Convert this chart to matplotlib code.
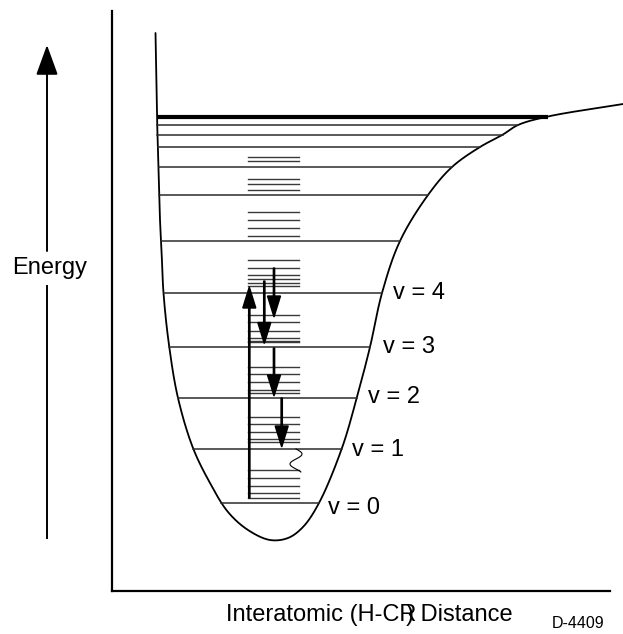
import numpy as np
import matplotlib
matplotlib.use("Agg")
import matplotlib.pyplot as plt

plt.rcParams['font.family'] = ['Liberation Sans', 'DejaVu Sans']

# Potential energy curve (distance, energy), arbitrary units
curve_r = [43.5, 45, 46.5, 48, 49.5, 51.5, 57, 66, 81, 98, 116, 136, 158,
           176, 191, 207, 230, 245, 258, 270, 288, 316, 340, 368, 391, 406,
           436, 511]
curve_e = [558, 475, 424, 371, 341, 298, 246, 193, 143, 108, 79, 61, 51,
           53, 64, 88, 143, 194, 244, 298, 350, 396, 424, 444, 456.5, 466,
           474.5, 487]

# Vibrational levels of the C-H stretch (v = 0 ... up to dissociation)
level_e = [88, 142.5, 193.5, 244.5, 298, 350, 396, 424, 444, 456.5, 466]
dissociation_e = 474.5
level_labels = ["v = 0", "v = 1", "v = 2", "v = 3", "v = 4"]
label_r = [216, 240, 256, 271, 281]
label_e = [83, 141, 194, 244, 298]

# Dense manifold of bath states
bath_e = [434, 429.7,
          412.5, 407, 401.3,
          378.7, 370.7, 363, 355.3,
          330.7, 323.5, 316, 311.7, 308, 305.3,
          276, 269, 260.5, 253, 250.5, 248.7,
          224.3, 217, 209, 201.5, 198,
          174.5, 167, 159.3, 152.5, 149.5,
          121, 113.3, 105.3, 98.2, 93.5]
bath_r = (136, 187)

# Excitation (up) and relaxation (down) transitions: (r, e_start, e_end)
excitation = (137.3, 93, 304)
relaxations = [(162, 323, 274),
               (152.3, 310, 247.5),
               (162, 243, 195),
               (169.7, 193, 144)]


def catmull_rom(pts, n=24, alpha=0.5):
    pts = np.asarray(pts, float)
    P = np.vstack([2 * pts[0] - pts[1], pts, 2 * pts[-1] - pts[-2]])
    out = []
    for i in range(1, len(P) - 2):
        p0, p1, p2, p3 = P[i - 1], P[i], P[i + 1], P[i + 2]
        t0 = 0.0
        t1 = t0 + np.linalg.norm(p1 - p0) ** alpha
        t2 = t1 + np.linalg.norm(p2 - p1) ** alpha
        t3 = t2 + np.linalg.norm(p3 - p2) ** alpha
        t = np.linspace(t1, t2, n, endpoint=False)[:, None]
        A1 = (t1 - t) / (t1 - t0) * p0 + (t - t0) / (t1 - t0) * p1
        A2 = (t2 - t) / (t2 - t1) * p1 + (t - t1) / (t2 - t1) * p2
        A3 = (t3 - t) / (t3 - t2) * p2 + (t - t2) / (t3 - t2) * p3
        B1 = (t2 - t) / (t2 - t0) * A1 + (t - t0) / (t2 - t0) * A2
        B2 = (t3 - t) / (t3 - t1) * A2 + (t - t1) / (t3 - t1) * A3
        out.append((t2 - t) / (t2 - t1) * B1 + (t - t1) / (t2 - t1) * B2)
    out.append(pts[-1:])
    return np.vstack(out)


W, H, DPI = 623, 634, 100
fig = plt.figure(figsize=(W / DPI, H / DPI), dpi=DPI)
ax = fig.add_axes([112 / W, (H - 591) / H, 498 / W, 580 / H])
ax.set_xlim(0, 498)
ax.set_ylim(0, 580)
for side in ("top", "right"):
    ax.spines[side].set_visible(False)
for side in ("left", "bottom"):
    ax.spines[side].set_linewidth(1.6)
ax.set_xticks([])
ax.set_yticks([])

# potential curve
c = catmull_rom(list(zip(curve_r, curve_e)))
ax.plot(c[:, 0], c[:, 1], color="black", lw=1.3, clip_on=False,
        solid_capstyle="round")

imin = np.argmin(c[:, 1])
left, right = c[:imin + 1], c[imin:]


def wall_points(e):
    xl = np.interp(e, left[::-1, 1], left[::-1, 0])
    xr = np.interp(e, right[:, 1], right[:, 0])
    return xl, xr


for e in level_e:
    xl, xr = wall_points(e)
    ax.plot([xl, xr], [e, e], color="#2b2b2b", lw=1.1)
xl, xr = wall_points(dissociation_e)
ax.plot([xl, xr], [dissociation_e, dissociation_e], color="black", lw=3.0,
        solid_capstyle="butt")

for e in bath_e:
    ax.plot(bath_r, [e, e], color="#3a3a3a", lw=1.0)

for txt, r, e in zip(level_labels, label_r, label_e):
    ax.text(r, e, txt, fontsize=17, ha="left", va="center")

# transitions
arrow_kw = dict(width=1.3, head_width=13, head_length=21,
                length_includes_head=True, color="black", zorder=5)
r0, e0, e1 = excitation
ax.arrow(r0, e0, 0, e1 - e0, **arrow_kw)
for r0, e0, e1 in relaxations:
    ax.arrow(r0, e0, 0, e1 - e0, **arrow_kw)

# energy lost to heat (squiggle)
s = np.linspace(0, 1, 80)
ax.plot(184 + 6 * np.sin(2.3 * np.pi * s), 142 - 23 * s, color="black",
        lw=0.8)

# Energy axis arrow
ax.annotate("", xy=(-65, 546), xytext=(-65, 340), xycoords="data",
            arrowprops=dict(arrowstyle="-|>,head_length=1.1,head_width=0.4",
                            lw=1.4, color="black", shrinkA=0, shrinkB=0,
                            mutation_scale=17),
            annotation_clip=False)
ax.plot([-65, -65], [53, 305], color="black", lw=1.4, clip_on=False)
ax.text(-62, 323, "Energy", fontsize=17, ha="center", va="center")

# distance label
t1 = ax.text(114, -24, "Interatomic (H-CR", fontsize=17, ha="left",
             va="center")
fig.canvas.draw()
bb = t1.get_window_extent().transformed(ax.transData.inverted())
ax.text(bb.x1 - 10, -24, ") Distance", fontsize=17, ha="left", va="center")
ax.text(440, -32, "D-4409", fontsize=11.5, ha="left", va="center")

fig.savefig("out.png", dpi=DPI)
